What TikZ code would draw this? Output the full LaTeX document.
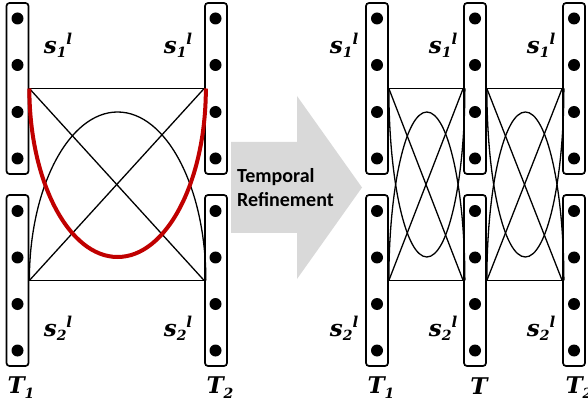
\documentclass[tikz,border=0pt]{standalone}
\usepackage{fontspec}
\newfontfamily\calfont{Carlito}
\newfontfamily\labfont{DejaVu Serif}
\definecolor{refred}{RGB}{192,0,0}
\definecolor{arrowgray}{RGB}{217,217,217}
\newcommand\slotlab[1]{s\raisebox{-4pt}{\fontsize{14}{14}\selectfont #1}\raisebox{9pt}{\fontsize{15}{15}\selectfont l}}
\newcommand\timelab[1]{T\raisebox{-5pt}{\fontsize{14}{14}\selectfont #1}}

\begin{document}
\begin{tikzpicture}[x=1pt,y=-1pt,
  bar/.style={draw,line width=1.7pt,rounded corners=3pt,fill=white,minimum width=22pt,minimum height=171pt,inner sep=0pt},
  dot/.style={circle,fill=black,inner sep=0pt,minimum size=12pt},
  link/.style={line width=1.3pt},
  lab/.style={font=\labfont\bfseries\itshape\fontsize{23}{27}\selectfont,inner sep=0pt}]
\useasboundingbox (0,0) rectangle (588,411);
% left panel
\node[bar] (A1) at (17.5,88.5) {};
\node[bar] (A2) at (17.5,280.5) {};
\node[bar] (B1) at (216,88.5) {};
\node[bar] (B2) at (216,280.5) {};
% right panel
\node[bar] (C1) at (377,88.5) {};
\node[bar] (C2) at (377,280.5) {};
\node[bar] (D1) at (475,88.5) {};
\node[bar] (D2) at (475,280.5) {};
\node[bar] (E1) at (574,88.5) {};
\node[bar] (E2) at (574,280.5) {};
\foreach \b/\x in {A/17.5,B/215.5,C/377,D/475,E/574}
  \foreach \y [count=\i] in {18.5,65,112,158.5,211,257.5,304,350.5}
    \node[dot] (\b-\i) at (\x,\y) {};
% links between the slots
\foreach \p/\q/\r in {A/B/88.25,C/D/38,D/E/38.5} {
  \draw[link] (\p1.east) -- (\q1.west);
  \draw[link] (\p2.east) -- (\q2.west);
  \draw[link] (\p1.east) -- (\q2.west);
  \draw[link] (\q1.west) -- (\p2.east);
  \draw[link] (\p2.east) arc[start angle=180,end angle=360,x radius=\r,y radius=168.5];
}
\foreach \p/\r in {C/38,D/38.5}
  \draw[link] (\p1.east) arc[start angle=180,end angle=0,x radius=\r,y radius=168.5];
\draw[refred,line width=4pt] (A1.east) arc[start angle=180,end angle=0,x radius=88.25,y radius=168.5];
% labels
\node[lab] (sa1) at (58,45) {\slotlab{1}};
\node[lab] (sb1) at (178,45) {\slotlab{1}};
\node[lab] (sa2) at (58,328) {\slotlab{2}};
\node[lab] (sb2) at (178,328) {\slotlab{2}};
\node[lab] (sc1) at (344,45) {\slotlab{1}};
\node[lab] (sd1) at (443,45) {\slotlab{1}};
\node[lab] (se1) at (541,45) {\slotlab{1}};
\node[lab] (sc2) at (344,328) {\slotlab{2}};
\node[lab] (sd2) at (443,328) {\slotlab{2}};
\node[lab] (se2) at (541,328) {\slotlab{2}};
\node[lab] (ta) at (21,388) {\timelab{1}};
\node[lab] (tb) at (220,388) {\timelab{2}};
\node[lab] (tc) at (381,388) {\timelab{1}};
\node[lab] (td) at (479,386) {T};
\node[lab] (te) at (579,388) {\timelab{2}};
% refinement arrow
\fill[arrowgray] (231,142) -- (297,142) -- (297,96) -- (362,187.5) -- (297,279) -- (297,233) -- (231,233) -- cycle;
\node[font=\calfont\bfseries\fontsize{20}{24}\selectfont,align=left,anchor=west,inner sep=0pt] (refine) at (237,188) {Temporal\\Refinement};
\end{tikzpicture}
\end{document}
